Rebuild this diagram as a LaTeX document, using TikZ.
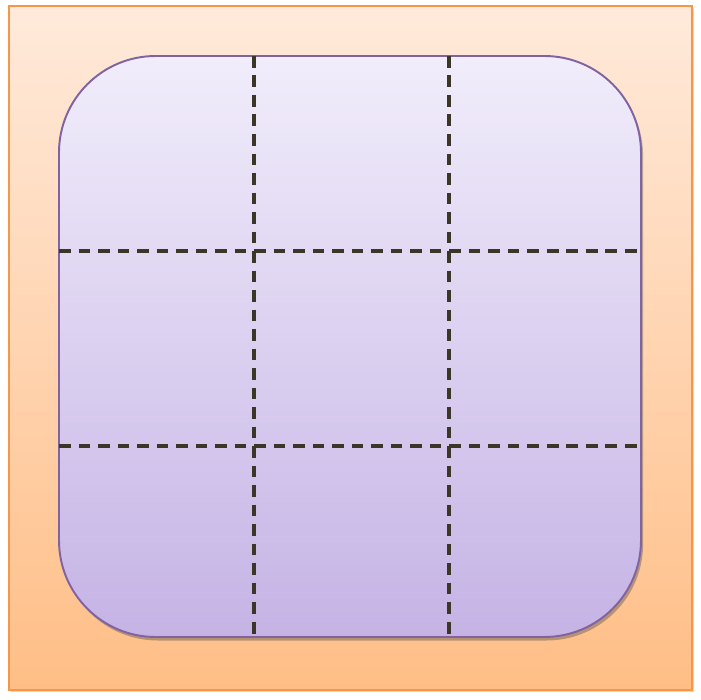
\documentclass[tikz,border=0pt]{standalone}
\usepackage{xcolor}
\usepackage{tikz}
\usetikzlibrary{shadows,calc}
\definecolor{tileorange}{RGB}{247,150,70}
\definecolor{tiletop}{RGB}{255,234,219}
\definecolor{tilebot}{RGB}{255,190,134}
\definecolor{gridpurple}{RGB}{128,100,162}
\definecolor{gridtop}{RGB}{241,237,251}
\definecolor{gridbot}{RGB}{197,179,229}
\definecolor{cutline}{RGB}{60,54,40}

\begin{document}
\begin{tikzpicture}[x=0.02cm,y=0.02cm,
  frame/.style={draw=tileorange,line width=1.2pt,top color=tiletop,bottom color=tilebot,
    drop shadow={shadow xshift=1.2pt,shadow yshift=-1.2pt,opacity=.25,fill=black!60}},
  panel/.style={draw=gridpurple,line width=1.1pt,rounded corners=55pt,top color=gridtop,bottom color=gridbot,
    drop shadow={shadow xshift=1.2pt,shadow yshift=-2pt,opacity=.4,fill=black!70}},
  slice/.style={draw=cutline,line width=2pt,dash pattern=on 6.8pt off 4.3pt}]

\path[use as bounding box] (0,0) rectangle (701,700);
\coordinate (frameNW) at (9,694);
\coordinate (frameSE) at (692,10);
\coordinate (panelNW) at (59,644);
\coordinate (panelSE) at (641,63);
\draw[frame] (frameNW) rectangle (frameSE);
\draw[panel] (panelNW) rectangle (panelSE);
% nine-slice guides
\foreach \xx in {254,449}
  \draw[slice] (\xx,644)--(\xx,63);
\foreach \yy in {449,254}
  \draw[slice] (59,\yy)--(641,\yy);

\end{tikzpicture}
\end{document}
